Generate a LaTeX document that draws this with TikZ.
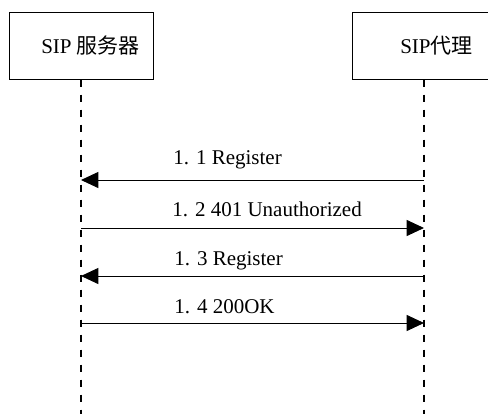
\documentclass[tikz,border=0pt]{standalone}
\usepackage{fontspec}
\setmainfont{Liberation Serif}
\newfontfamily\cjk{Noto Sans CJK SC}
\usetikzlibrary{arrows.meta}

\begin{document}
\begin{tikzpicture}[x=0.75pt,y=-0.75pt,
  actor/.style={draw,line width=0.75pt,minimum width=108pt,minimum height=50.25pt,inner sep=0pt},
  lifeline/.style={line width=1.5pt,dash pattern=on 5.5pt off 5.75pt},
  msg/.style={line width=0.75pt,-{Triangle[length=13pt,width=12pt]}},
  msglabel/.style={anchor=base west,inner sep=0pt,font=\fontsize{15.75}{18}\selectfont}]
\useasboundingbox (0,0) rectangle (488,414);
\clip (0,0) rectangle (488,414);

% the two parties
\node[actor] (srv) at (81,45.5) {};
\node[actor] (proxy) at (424,45.5) {};
\node[msglabel] (srvtext) at (41,53) {SIP {\cjk 服务器}};
\node[msglabel] (proxytext) at (400,53) {SIP{\cjk 代理}};

% lifelines
\draw[lifeline] (srv.south) -- (srv.south |- 0,414);
\draw[lifeline] (proxy.south) -- (proxy.south |- 0,414);

\foreach \i/\y in {1/180,2/228,3/276,4/323} {
  \coordinate (s\i) at (srv.south |- 0,\y);
  \coordinate (p\i) at (proxy.south |- 0,\y);
}

% messages
\draw[msg] (p1) -- (s1);
\draw[msg] (s2) -- (p2);
\draw[msg] (p3) -- (s3);
\draw[msg] (s4) -- (p4);

\node[msglabel] (m1) at (173,164) {1. 1 Register};
\node[msglabel] (m2) at (172,216) {1. 2 401 Unauthorized};
\node[msglabel] (m3) at (174,265) {1. 3 Register};
\node[msglabel] (m4) at (174,313) {1. 4 200OK};
\end{tikzpicture}
\end{document}
